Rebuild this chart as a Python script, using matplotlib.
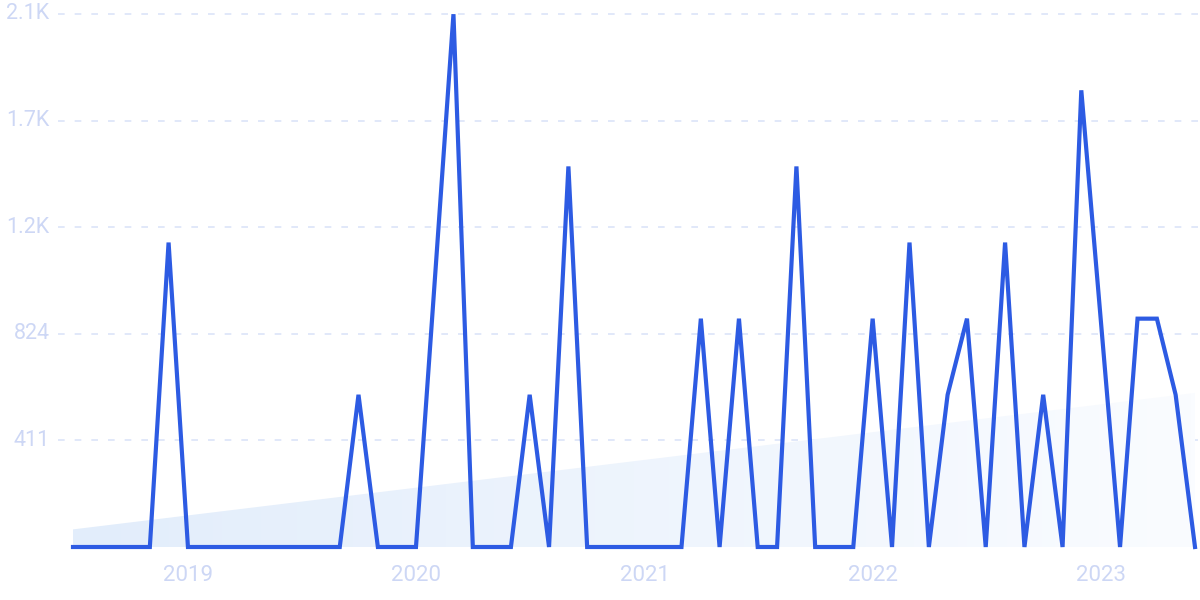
import matplotlib
matplotlib.use("Agg")
import matplotlib.pyplot as plt
import matplotlib.dates as mdates
import numpy as np
import pandas as pd
from matplotlib.colors import LinearSegmentedColormap
from matplotlib.patches import Polygon

# ---- data ----
months = pd.date_range("2018-07-01", "2023-06-01", freq="MS")
values = [
    0, 0, 0, 0, 0, 1176,                      # Jul-Dec 2018
    0, 0, 0, 0, 0, 0, 0, 0, 0, 588, 0, 0,     # 2019
    0, 1060, 2058, 0, 0, 0, 588, 0, 1470, 0, 0, 0,   # 2020
    0, 0, 0, 882, 0, 882, 0, 0, 1470, 0, 0, 0,       # 2021
    882, 0, 1176, 0, 588, 882, 0, 1176, 0, 588, 0, 1764,  # 2022
    882, 0, 882, 882, 588, 0,                 # Jan-Jun 2023
]
trend_start = 68
trend_end = 595
ytick_values = [411.75, 823.5, 1235.25, 1647.0, 2058.75]
ytick_labels = ["411", "824", "1.2K", "1.7K", "2.1K"]
xtick_years = [2019, 2020, 2021, 2022, 2023]

LINE = "#2D5BE3"
TXT = "#CDD7F5"
GRID = "#DCE4F8"

plt.rcParams["font.family"] = ["Roboto", "DejaVu Sans"]

fig = plt.figure(figsize=(12, 6), dpi=100)
ax = fig.add_axes([73 / 1200, 53 / 600, (1195 - 73) / 1200, (547 - 14) / 600])

x = mdates.date2num(months)
ax.set_xlim(x[0], x[-1])
ax.set_ylim(0, ytick_values[-1])

# gradient trend area
poly = Polygon([(x[0], 0), (x[0], trend_start), (x[-1], trend_end), (x[-1], 0)],
               closed=True, facecolor="none", edgecolor="none")
ax.add_patch(poly)
cmap = LinearSegmentedColormap.from_list("g", ["#E2EDFB", "#FAFCFF"])
grad = np.linspace(0, 1, 256).reshape(1, -1)
im = ax.imshow(grad, cmap=cmap, aspect="auto", extent=(x[0], x[-1], 0, trend_end),
               origin="lower", zorder=1)
im.set_clip_path(poly)

# gridlines extending beyond axes
x0f = (58 - 73) / 1122
x1f = (1200 - 73) / 1122
for yv in ytick_values:
    ax.plot([x0f, x1f], [yv, yv], transform=ax.get_yaxis_transform(),
            color=GRID, lw=1.2, dashes=(4, 6), clip_on=False, zorder=0)

ax.plot(x, values, color=LINE, lw=3.0, solid_joinstyle="miter", clip_on=False, zorder=3)

for s in ax.spines.values():
    s.set_visible(False)

ax.set_yticks(ytick_values)
ax.set_yticklabels(ytick_labels)
ax.set_xticks([mdates.date2num(pd.Timestamp(f"{y}-01-01")) for y in xtick_years])
ax.set_xticklabels([str(y) for y in xtick_years])
ax.tick_params(axis="both", length=0, colors=TXT)
ax.tick_params(axis="y", pad=17, labelsize=15.5)
ax.tick_params(axis="x", pad=13, labelsize=16)
for lab in ax.get_yticklabels():
    lab.set_verticalalignment("center")

fig.savefig("out.png", dpi=100)
